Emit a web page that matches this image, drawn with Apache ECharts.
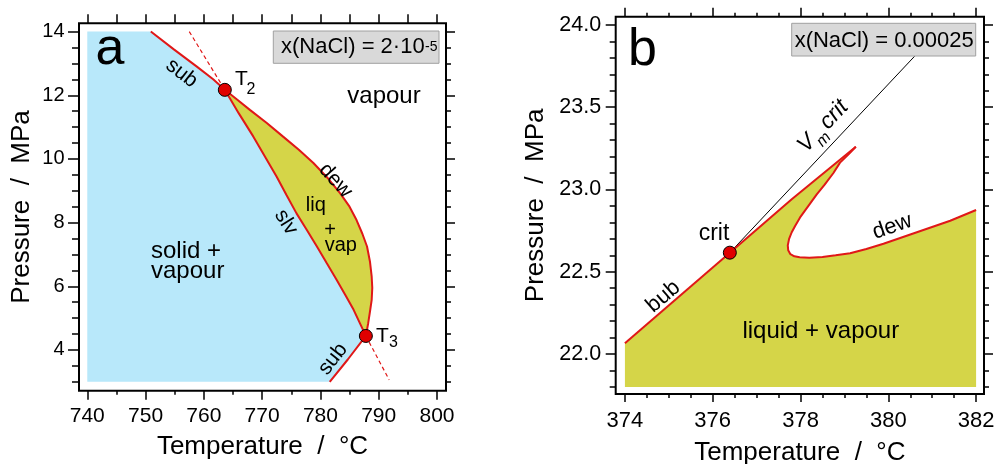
<!DOCTYPE html>
<html><head><meta charset="utf-8">
<script src="https://cdn.jsdelivr.net/npm/echarts@6/dist/echarts.min.js"></script>
<style>html,body{margin:0;padding:0;background:#fff}#c{width:994px;height:464px}</style>
</head><body><div id="c"></div>
<script>
// ---------------- Panel a data (T in °C, P in MPa) ----------------
const aXRange = [738.58, 801.55];
const aYRange = [2.72, 14.26];
const aXMajor = [740, 750, 760, 770, 780, 790, 800];
const aXMinor = [745, 755, 765, 775, 785, 795];
const aXTop = [740, 745, 750, 755, 760, 765, 770, 775, 780, 785, 790, 795, 800];
const aYMajor = [4, 6, 8, 10, 12, 14];
const aYMinor = [3, 3.5, 4.5, 5, 5.5, 6.5, 7, 7.5, 8.5, 9, 9.5, 10.5, 11, 11.5, 12.5, 13, 13.5];

const aSubUpperT = [750.9, 754.8, 758.8, 761.6, 763.6];
const aSubUpperP = [14.0, 13.45, 12.9, 12.5, 12.17];
const aSlvT = [763.6, 766.0, 768.5, 770.5, 772.5, 774.2, 775.9, 777.7, 779.4, 781.1, 782.8, 784.3, 785.7, 787.8];
const aSlvP = [12.17, 11.43, 10.70, 10.07, 9.44, 8.86, 8.29, 7.76, 7.25, 6.72, 6.20, 5.72, 5.26, 4.44];
const aDewT = [763.6, 765.8, 767.9, 770.8, 773.6, 776.3, 778.8, 781.2, 783.4, 785.0, 786.2, 787.2, 788.0, 788.5, 788.8, 788.9, 788.8, 788.5, 788.2, 787.8];
const aDewP = [12.17, 11.85, 11.54, 11.13, 10.70, 10.29, 9.87, 9.41, 8.92, 8.50, 8.08, 7.65, 7.25, 6.78, 6.30, 5.95, 5.57, 5.20, 4.84, 4.44];
const aSubLowerT = [787.8, 784.7, 781.6];
const aSubLowerP = [4.44, 3.7, 3.0];
const aDashUpperT = [757.5, 763.6];
const aDashUpperP = [14.0, 12.17];
const aDashLowerT = [787.8, 791.8];
const aDashLowerP = [4.44, 3.06];
const aTripleT = [763.6, 787.8];
const aTripleP = [12.17, 4.44];
const aSolidCorners = [[740, 14.0], [740, 3.0]];

// ---------------- Panel b data ----------------
const bXRange = [373.79, 382.18];
const bYRange = [21.757, 24.05];
const bXMajor = [374, 376, 378, 380, 382];
const bXMinor = [374.5, 375, 375.5, 376.5, 377, 377.5, 378.5, 379, 379.5, 380.5, 381, 381.5];
const bYMajor = [22.0, 22.5, 23.0, 23.5, 24.0];
const bYMinor = [21.8, 21.9, 22.1, 22.2, 22.3, 22.4, 22.6, 22.7, 22.8, 22.9, 23.1, 23.2, 23.3, 23.4, 23.6, 23.7, 23.8, 23.9];

const bBubT = [374.0, 376.39];
const bBubP = [22.065, 22.616];
const bUpperT = [376.39, 377.8, 379.26];
const bUpperP = [22.616, 22.94, 23.26];
const bDewT = [379.26, 379.10, 378.90, 378.75, 378.55, 378.37, 378.18, 377.99, 377.88, 377.80, 377.74, 377.71, 377.72, 377.77, 377.86, 377.98, 378.20, 378.50, 378.80, 379.13, 379.50, 379.89, 380.27, 380.65, 381.03, 381.41, 382.0];
const bDewP = [23.26, 23.215, 23.163, 23.10, 23.03, 22.97, 22.90, 22.83, 22.78, 22.74, 22.70, 22.66, 22.63, 22.607, 22.594, 22.588, 22.585, 22.59, 22.60, 22.612, 22.638, 22.67, 22.705, 22.74, 22.775, 22.81, 22.875];
const bCritT = [376.39];
const bCritP = [22.616];
const bVmT = [376.39, 380.6];
const bVmP = [22.616, 23.81];
const bFillBottom = 21.80;

// ---------------- helpers ----------------
const FONT = '"Liberation Sans", Arial, Helvetica, sans-serif';
const RED = '#e01818';
const zip = (xs, ys) => xs.map((x, i) => [x, ys[i]]);

function axis(kind, gridIndex, position, range, ticks, len, o) {
  o = o || {};
  const ax = {
    type: 'value', gridIndex, position, min: range[0], max: range[1],
    axisLine: { show: false, onZero: false },
    splitLine: { show: false },
    axisTick: { show: true, inside: false, length: len, customValues: ticks, lineStyle: { color: '#000', width: 1.5 } },
    axisLabel: { show: false }
  };
  if (o.labels) {
    ax.axisLabel = { show: true, customValues: ticks, margin: o.margin, fontSize: o.fontSize, color: '#000', fontFamily: FONT };
    if (o.fmt) ax.axisLabel.formatter = o.fmt;
  }
  if (o.name) {
    ax.name = o.name; ax.nameLocation = 'middle'; ax.nameGap = o.nameGap;
    ax.nameTextStyle = { fontSize: 26, color: '#000', fontFamily: FONT };
  }
  return ax;
}

function poly(points, color, xi, yi) {
  return {
    type: 'custom', xAxisIndex: xi, yAxisIndex: yi, z: 1, silent: true, clip: true,
    data: [points[0]],
    renderItem: (params, api) => ({
      type: 'polygon',
      shape: { points: points.map(p => api.coord(p)) },
      style: { fill: color, stroke: null }
    })
  };
}
function line(pts, xi, yi, style) {
  return { type: 'line', data: pts, xAxisIndex: xi, yAxisIndex: yi, symbol: 'none', showSymbol: false, silent: true, z: 3, lineStyle: style };
}
function dots(pts, xi, yi) {
  return { type: 'scatter', data: pts, xAxisIndex: xi, yAxisIndex: yi, symbolSize: 13, silent: true, z: 5,
    itemStyle: { color: '#e00000', borderColor: '#000', borderWidth: 1, opacity: 1 } };
}
function txt(x, y, text, size, o) {
  o = o || {};
  return { type: 'text', x, y, rotation: (o.rot || 0) * Math.PI / 180, z: 100,
    style: { text, font: (o.italic ? 'italic ' : '') + size + 'px ' + FONT, fill: '#000',
      textAlign: o.align || 'center', textVerticalAlign: o.va || 'middle',
      align: o.align || 'center', verticalAlign: o.va || 'middle' } };
}

// polygons
const aSubUpper = zip(aSubUpperT, aSubUpperP);
const aSlv = zip(aSlvT, aSlvP);
const aDew = zip(aDewT, aDewP);
const aSubLower = zip(aSubLowerT, aSubLowerP);
const aBlue = [aSolidCorners[0]].concat(aSubUpper, aSlv.slice(1), aSubLower.slice(1), [aSolidCorners[1]]);
const aOlive = aDew.concat(aSlv.slice().reverse().slice(1));

const bBub = zip(bBubT, bBubP);
const bUpper = zip(bUpperT, bUpperP);
const bDew = zip(bDewT, bDewP);
const bOlive = [[bBubT[0], bFillBottom]].concat(bBub, bUpper.slice(1), bDew.slice(1), [[bDewT[bDewT.length - 1], bFillBottom]]);

const redLine = { color: RED, width: 2 };
const dashLine = { color: RED, width: 1.2, type: [4, 3] };

const chart = echarts.init(document.getElementById('c'));
chart.setOption({
  animation: false,
  backgroundColor: '#fff',
  grid: [
    { left: 79, top: 23.3, width: 367, height: 367.4, show: true, borderColor: '#000', borderWidth: 2, backgroundColor: 'transparent', outerBoundsMode: 'none' },
    { left: 615.7, top: 16.7, width: 368.3, height: 377.3, show: true, borderColor: '#000', borderWidth: 2, backgroundColor: 'transparent', outerBoundsMode: 'none' }
  ],
  xAxis: [
    axis('x', 0, 'bottom', aXRange, aXMajor, 9, { labels: true, margin: 15.5, fontSize: 21, name: 'Temperature  /  °C', nameGap: 43 }),
    axis('x', 0, 'bottom', aXRange, aXMinor, 4),
    axis('x', 0, 'top', aXRange, aXTop, 9),
    axis('x', 1, 'bottom', bXRange, bXMajor, 8, { labels: true, margin: 16, fontSize: 22, name: 'Temperature  /  °C', nameGap: 45.5 }),
    axis('x', 1, 'bottom', bXRange, bXMinor, 4),
    axis('x', 1, 'top', bXRange, bXMajor, 9),
    axis('x', 1, 'top', bXRange, bXMinor, 4)
  ],
  yAxis: [
    axis('y', 0, 'left', aYRange, aYMajor, 11, { labels: true, margin: 14.5, fontSize: 20, name: 'Pressure  /  MPa', nameGap: 44 }),
    axis('y', 0, 'left', aYRange, aYMinor, 7),
    axis('y', 0, 'right', aYRange, aYMajor, 9),
    axis('y', 0, 'right', aYRange, aYMinor, 5),
    axis('y', 1, 'left', bYRange, bYMajor, 10, { labels: true, margin: 14.5, fontSize: 21.5, fmt: v => Number(v).toFixed(1), name: 'Pressure  /  MPa', nameGap: 67 }),
    axis('y', 1, 'left', bYRange, bYMinor, 6),
    axis('y', 1, 'right', bYRange, bYMajor, 9),
    axis('y', 1, 'right', bYRange, bYMinor, 5)
  ],
  series: [
    poly(aBlue, '#b8e8fa', 0, 0),
    poly(aOlive, '#d5d548', 0, 0),
    line(aSubUpper, 0, 0, redLine),
    line(aSlv, 0, 0, redLine),
    line(aDew, 0, 0, redLine),
    line(aSubLower, 0, 0, redLine),
    line(zip(aDashUpperT, aDashUpperP), 0, 0, dashLine),
    line(zip(aDashLowerT, aDashLowerP), 0, 0, dashLine),
    dots(zip(aTripleT, aTripleP), 0, 0),

    poly(bOlive, '#d5d548', 3, 4),
    line(zip(bVmT, bVmP), 3, 4, { color: '#000', width: 1 }),
    line(bBub, 3, 4, redLine),
    line(bUpper, 3, 4, redLine),
    line(bDew, 3, 4, redLine),
    dots(zip(bCritT, bCritP), 3, 4)
  ],
  graphic: [
    // panel a
    txt(110, 49.5, 'a', 52),
    { type: 'rect', z: 99, shape: { x: 273.3, y: 31, width: 165.7, height: 32.3 }, style: { fill: '#d9d9d9', stroke: '#a0a0a0', lineWidth: 1 } },
    txt(281, 47.4, 'x(NaCl) = 2·10', 22, { align: 'left' }),
    txt(425, 40, '-5', 14, { align: 'left', va: 'top' }),
    txt(384, 96.7, 'vapour', 24),
    txt(235, 79.4, 'T', 21, { align: 'left' }),
    txt(246.5, 89.5, '2', 16, { align: 'left' }),
    txt(376, 336, 'T', 21, { align: 'left' }),
    txt(389, 342.8, '3', 16, { align: 'left' }),
    txt(151, 251.7, 'solid +', 24, { align: 'left' }),
    txt(151, 271.7, 'vapour', 24, { align: 'left' }),
    txt(181.7, 73.3, 'sub', 21, { rot: -38 }),
    txt(333, 359, 'sub', 21, { rot: 52 }),
    txt(286, 222.3, 'slv', 21, { rot: -58 }),
    txt(335.5, 180.7, 'dew', 21, { rot: -48 }),
    txt(315.8, 205.8, 'liq', 20),
    txt(330, 230, '+', 20),
    txt(340.8, 245.3, 'vap', 20),
    // panel b
    txt(642.5, 51, 'b', 52),
    { type: 'rect', z: 99, shape: { x: 791.7, y: 23.3, width: 184, height: 32.7 }, style: { fill: '#d9d9d9', stroke: '#a0a0a0', lineWidth: 1 } },
    txt(884.2, 40.8, 'x(NaCl) = 0.00025', 22),
    txt(714, 233.7, 'crit', 23),
    txt(663.3, 296.7, 'bub', 22, { rot: 40.8 }),
    txt(892.3, 226.7, 'dew', 22, { rot: 19 }),
    txt(820.8, 331.7, 'liquid + vapour', 24),
    { type: 'group', x: 810, y: 157, rotation: 46.8 * Math.PI / 180, z: 100, children: [
      { type: 'text', x: 0, y: 0, z: 100, style: { text: 'V', font: 'italic 23px ' + FONT, fill: '#000', textAlign: 'left', align: 'left', textVerticalAlign: 'bottom', verticalAlign: 'bottom' } },
      { type: 'text', x: 15.5, y: 6, z: 100, style: { text: 'm', font: 'italic 16px ' + FONT, fill: '#000', textAlign: 'left', align: 'left', textVerticalAlign: 'bottom', verticalAlign: 'bottom' } },
      { type: 'text', x: 32, y: 0, z: 100, style: { text: 'crit', font: 'italic 23px ' + FONT, fill: '#000', textAlign: 'left', align: 'left', textVerticalAlign: 'bottom', verticalAlign: 'bottom' } }
    ] }
  ]
});
</script>
</body></html>
